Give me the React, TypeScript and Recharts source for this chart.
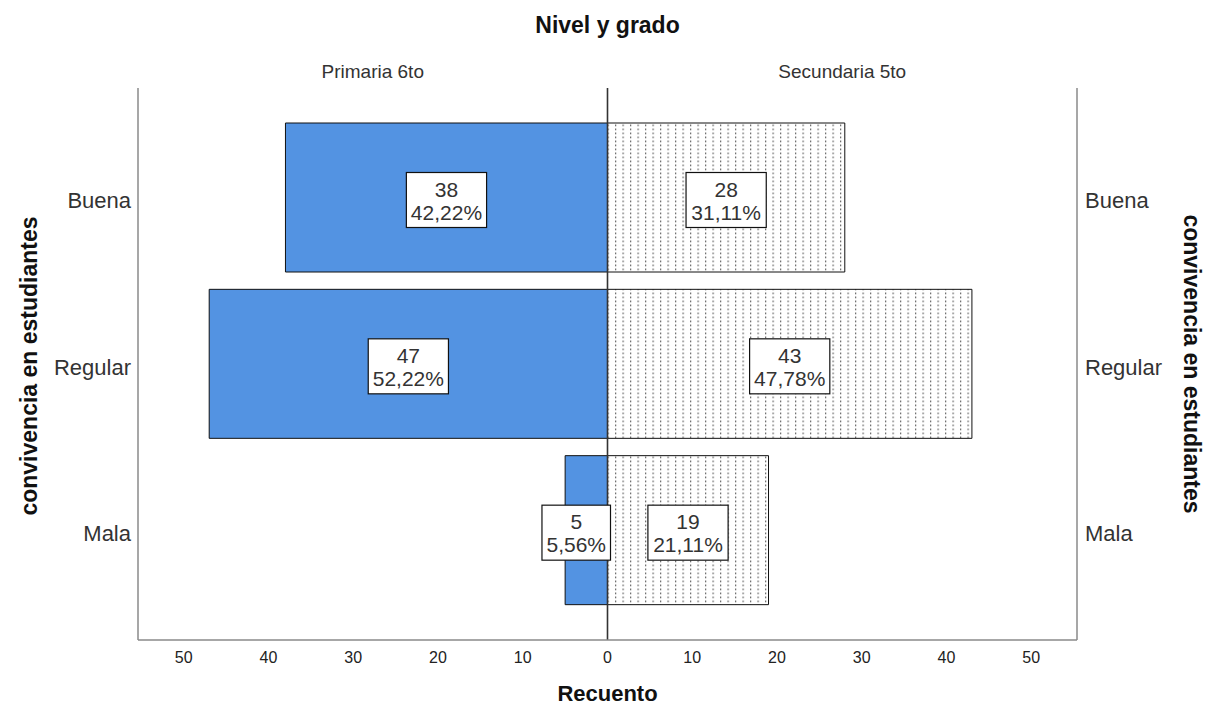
import React from 'react';
import { BarChart, Bar, XAxis, YAxis, ReferenceLine, LabelList } from 'recharts';

const categories = ['Buena', 'Regular', 'Mala'];
const primaria = [38, 47, 5];
const secundaria = [28, 43, 19];
const primariaPct = ['42,22%', '52,22%', '5,56%'];
const secundariaPct = ['31,11%', '47,78%', '21,11%'];
const xTicks = [-50, -40, -30, -20, -10, 0, 10, 20, 30, 40, 50];
const groupLabels = ['Primaria 6to', 'Secundaria 5to'];
const title = 'Nivel y grado';
const xTitle = 'Recuento';
const yTitle = 'convivencia en estudiantes';

const data = categories.map((c, i) => ({
  cat: c,
  primaria: -primaria[i],
  secundaria: secundaria[i],
}));

const FONT = '"Liberation Sans", Arial, Helvetica, sans-serif';
const W = 1206;
const H = 707;
const PLOT = { left: 138, right: 1077, top: 88, bottom: 640 };
const YAXIS_W = 100;
const XAXIS_H = 30;
const DOMAIN = 55.4;
const BLUE = '#5393E2';

const CHAR_W: Record<string, number> = {
  '0': 0.556, '1': 0.556, '2': 0.556, '3': 0.556, '4': 0.556,
  '5': 0.556, '6': 0.556, '7': 0.556, '8': 0.556, '9': 0.556,
  ',': 0.278, '%': 0.889, '.': 0.278,
};
function textWidth(s: string, size: number) {
  let w = 0;
  for (const ch of s) w += CHAR_W[ch] ?? 0.556;
  return w * size;
}

function makeLabel(counts: number[], pcts: string[], side: 'left' | 'right') {
  return (props: any) => {
    const vb = props.viewBox || {};
    const x = props.x ?? vb.x;
    const y = props.y ?? vb.y;
    const width = props.width ?? vb.width;
    const height = props.height ?? vb.height;
    const index = props.index;
    if (x == null || index == null) return null;
    const l = Math.min(x, x + width);
    const r = Math.max(x, x + width);
    const cx = (l + r) / 2;
    const cy = y + height / 2;
    const fs = 21;
    const tw = Math.max(textWidth(String(counts[index]), fs), textWidth(pcts[index], fs));
    const bw = tw + 9;
    let bx = cx - bw / 2;
    if (side === 'left') {
      if (bx + bw > r + 3) bx = r + 3 - bw;
    } else {
      if (bx < l - 3) bx = l - 3;
    }
    return (
      <g>
        <rect x={bx} y={cy - 25} width={bw} height={55} fill="#fff" stroke="#111" strokeWidth={1.2} />
        <text x={bx + bw / 2} y={cy - 1} textAnchor="middle" fontSize={fs} fill="#333" fontFamily={FONT}>
          {counts[index]}
        </text>
        <text x={bx + bw / 2} y={cy + 22} textAnchor="middle" fontSize={fs} fill="#333" fontFamily={FONT}>
          {pcts[index]}
        </text>
      </g>
    );
  };
}

const LeftTick = (props: any) => (
  <text x={props.x} y={props.y} dy={11} textAnchor="end" fontSize={22} fill="#333" fontFamily={FONT}>
    {props.payload.value}
  </text>
);
const RightTick = (props: any) => (
  <text x={props.x} y={props.y} dy={11} textAnchor="start" fontSize={22} fill="#333" fontFamily={FONT}>
    {props.payload.value}
  </text>
);
const BottomTick = (props: any) => (
  <text x={props.x} y={props.y} dy={23} textAnchor="middle" fontSize={16} fill="#222" fontFamily={FONT}>
    {Math.abs(props.payload.value)}
  </text>
);

export default function App() {
  const leftCenter = (PLOT.left + (PLOT.left + PLOT.right) / 2) / 2;
  const zeroX = (PLOT.left + PLOT.right) / 2;
  const rightCenter = (zeroX + PLOT.right) / 2;
  const midY = (PLOT.top + PLOT.bottom) / 2;
  return (
    <div style={{ position: 'absolute', left: 0, top: 0, width: W, height: H, background: '#fff' }}>
      <BarChart
        width={W}
        height={H}
        data={data}
        layout="vertical"
        stackOffset="sign"
        margin={{
          top: PLOT.top,
          bottom: H - PLOT.bottom - XAXIS_H,
          left: PLOT.left - YAXIS_W,
          right: W - PLOT.right - YAXIS_W,
        }}
      >
        <XAxis
          type="number"
          domain={[-DOMAIN, DOMAIN]}
          ticks={xTicks}
          allowDataOverflow
          height={XAXIS_H}
          tickLine={false}
          tickSize={0}
          tickMargin={0}
          axisLine={{ stroke: '#8a8a8a', strokeWidth: 1.5 }}
          tick={<BottomTick />}
          interval={0}
        />
        <YAxis
          yAxisId="left"
          type="category"
          dataKey="cat"
          width={YAXIS_W}
          padding={{ top: 26, bottom: 27 }}
          tickLine={false}
          tickSize={0}
          tickMargin={7}
          axisLine={{ stroke: '#8a8a8a', strokeWidth: 1.5 }}
          tick={<LeftTick />}
          interval={0}
        />
        <YAxis
          yAxisId="right"
          orientation="right"
          type="category"
          dataKey="cat"
          width={YAXIS_W}
          padding={{ top: 26, bottom: 27 }}
          tickLine={false}
          tickSize={0}
          tickMargin={8}
          axisLine={{ stroke: '#8a8a8a', strokeWidth: 1.5 }}
          tick={<RightTick />}
          interval={0}
        />
        <Bar
          dataKey="primaria"
          yAxisId="left"
          stackId="s"
          barSize={149}
          fill={BLUE}
          stroke="#111"
          strokeWidth={1}
          isAnimationActive={false}
        >
          <LabelList dataKey="primaria" content={makeLabel(primaria, primariaPct, 'left')} />
        </Bar>
        <Bar
          dataKey="secundaria"
          yAxisId="left"
          stackId="s"
          barSize={149}
          fill="url(#dotPattern)"
          stroke="#111"
          strokeWidth={1}
          isAnimationActive={false}
        >
          <LabelList dataKey="secundaria" content={makeLabel(secundaria, secundariaPct, 'right')} />
        </Bar>
        <ReferenceLine x={0} yAxisId="left" stroke="#333" strokeWidth={1.6} />
      </BarChart>
      <svg
        width={W}
        height={H}
        style={{ position: 'absolute', left: 0, top: 0, pointerEvents: 'none' }}
      >
        <defs>
          <pattern id="dotPattern" patternUnits="userSpaceOnUse" x={615} y={0} width={7.5} height={4}>
            <rect x={0} y={0} width={7.5} height={4} fill="#fff" />
            <rect x={0} y={0.5} width={1.2} height={1.8} fill="#6e6e6e" />
          </pattern>
        </defs>
        <text x={zeroX} y={33} textAnchor="middle" fontSize={23} fontWeight="bold" fill="#111" fontFamily={FONT}>
          {title}
        </text>
        <text x={leftCenter} y={78} textAnchor="middle" fontSize={19} fill="#333" fontFamily={FONT}>
          {groupLabels[0]}
        </text>
        <text x={rightCenter} y={78} textAnchor="middle" fontSize={19} fill="#333" fontFamily={FONT}>
          {groupLabels[1]}
        </text>
        <text x={zeroX} y={701} textAnchor="middle" fontSize={22} fontWeight="bold" fill="#111" fontFamily={FONT}>
          {xTitle}
        </text>
        <text
          x={0}
          y={0}
          transform={`translate(37, ${midY + 2}) rotate(-90)`}
          textAnchor="middle"
          fontSize={23}
          fontWeight="bold"
          fill="#111"
          fontFamily={FONT}
        >
          {yTitle}
        </text>
        <text
          x={0}
          y={0}
          transform={`translate(1184, ${midY}) rotate(90)`}
          textAnchor="middle"
          fontSize={23}
          fontWeight="bold"
          fill="#111"
          fontFamily={FONT}
        >
          {yTitle}
        </text>
      </svg>
    </div>
  );
}
